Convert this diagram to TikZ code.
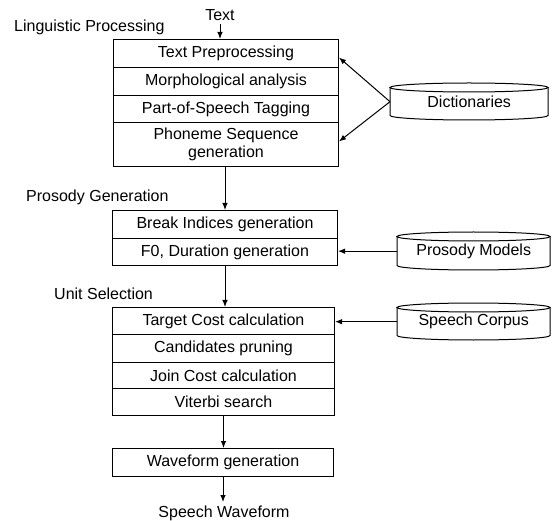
\documentclass[tikz,border=0pt]{standalone}
\usepackage{fontspec}
\setmainfont{Liberation Sans}
\usetikzlibrary{arrows.meta}
\begin{document}
\begin{tikzpicture}[x=1pt,y=-1pt,
  every node/.style={font=\fontsize{16}{18}\selectfont, text=black},
  row/.style={draw, line width=1pt, rectangle, inner sep=0pt, anchor=north west, align=center},
  lbl/.style={inner sep=0pt, anchor=west},
  arr/.style={-{Latex[length=7pt,width=5.5pt]}, line width=1pt},
  cyl/.style={draw, line width=1pt},
  cylbox/.style={inner sep=0pt, anchor=north west}]
\useasboundingbox (0,0) rectangle (554,521);

% labels
\node (txt) at (220,15) {Text};
\node[lbl] (lp) at (14,27) {Linguistic Processing};
\node[lbl] (pg) at (26,197) {Prosody Generation};
\node[lbl] (us) at (54,294) {Unit Selection};

% linguistic processing box
\node[row, minimum width=225pt, minimum height=28pt] (tp) at (113,39) {Text Preprocessing};
\node[row, minimum width=225pt, minimum height=28pt] (ma) at (113,67) {Morphological analysis};
\node[row, minimum width=225pt, minimum height=27pt] (pos) at (113,95) {Part-of-Speech Tagging};
\node[row, minimum width=225pt, minimum height=44pt] (ph) at (113,122) {Phoneme Sequence\\generation};

% prosody box
\node[row, minimum width=225pt, minimum height=28pt] (bi) at (112,210) {Break Indices generation};
\node[row, minimum width=225pt, minimum height=27pt] (f0) at (112,238) {F0, Duration generation};

% unit selection box
\node[row, minimum width=222pt, minimum height=27pt] (tc) at (112,307) {Target Cost calculation};
\node[row, minimum width=222pt, minimum height=28pt] (cp) at (112,334) {Candidates pruning};
\node[row, minimum width=222pt, minimum height=26pt] (jc) at (112,362) {Join Cost calculation};
\node[row, minimum width=222pt, minimum height=27pt] (vs) at (112,388) {Viterbi search};

% waveform
\node[row, minimum width=221pt, minimum height=28pt] (wf) at (112,448) {Waveform generation};
\node (sw) at (224,513) {Speech Waveform};

% cylinders
\node[cylbox, minimum width=158pt, minimum height=37pt] (dict) at (390,83) {Dictionaries};
\draw[cyl] (469,87.5) ellipse [x radius=79pt, y radius=4.5pt];
\draw[cyl] (390,87.5) -- (390,115.5) arc[start angle=180, end angle=360, x radius=79pt, y radius=4.5pt] -- (548,87.5);

\node[cylbox, minimum width=153pt, minimum height=38pt] (pm) at (397,232) {Prosody Models};
\draw[cyl] (473.5,236.5) ellipse [x radius=76.5pt, y radius=4.5pt];
\draw[cyl] (397,236.5) -- (397,265.5) arc[start angle=180, end angle=360, x radius=76.5pt, y radius=4.5pt] -- (550,236.5);

\node[cylbox, minimum width=153pt, minimum height=37pt] (sc) at (397,303) {Speech Corpus};
\draw[cyl] (473.5,307.5) ellipse [x radius=76.5pt, y radius=4.5pt];
\draw[cyl] (397,307.5) -- (397,335.5) arc[start angle=180, end angle=360, x radius=76.5pt, y radius=4.5pt] -- (550,307.5);

% connectors
\draw[arr] (txt.south) -- (txt.south |- tp.north);
\draw[arr] (bi.north |- ph.south) -- (bi.north);
\draw[arr] (f0.south) -- (f0.south |- tc.north);
\draw[arr] (vs.south) -- (vs.south |- wf.north);
\draw[arr] (wf.south) -- (wf.south |- sw.north);
\draw[arr] (dict.west) -- ([yshift=-4pt]tp.east);
\draw[arr] (dict.west) -- ([yshift=3pt]ph.east);
\draw[arr] (pm.west) -- (pm.west -| f0.east);
\draw[arr] (sc.west) -- (sc.west -| tc.east);
\end{tikzpicture}
\end{document}
